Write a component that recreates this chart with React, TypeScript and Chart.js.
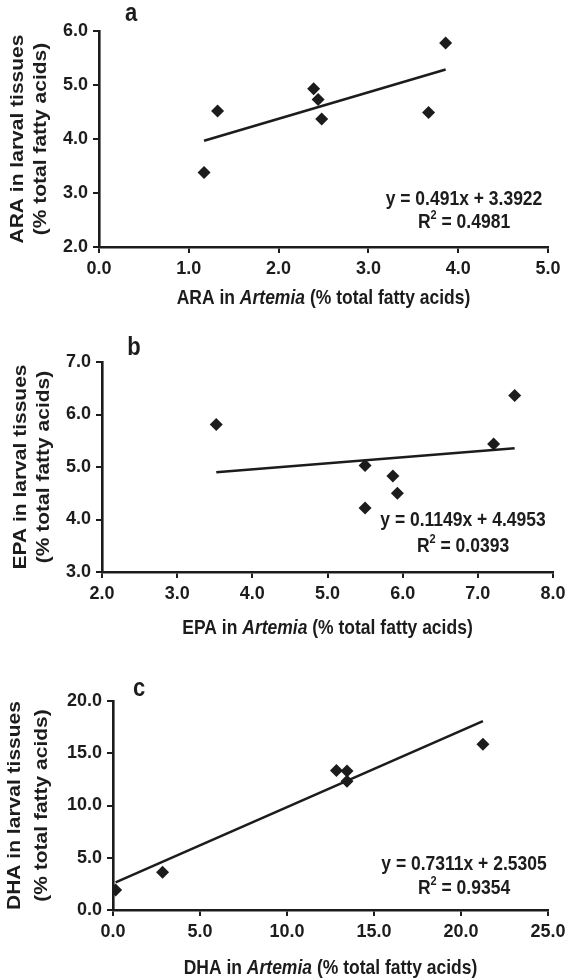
import React, { useEffect, useRef } from 'react';
import { Chart, registerables } from 'chart.js';

Chart.register(...registerables);

// ---- data ----
const panelLetters = ['a', 'b', 'c'];
const acidNames = ['ARA', 'EPA', 'DHA'];

const araArtemia = [1.17, 1.32, 2.39, 2.44, 2.48, 3.67, 3.86];
const araLarvae = [3.38, 4.52, 4.93, 4.73, 4.37, 4.49, 5.78];
const epaArtemia = [3.52, 5.5, 5.5, 5.87, 5.93, 7.21, 7.49];
const epaLarvae = [5.81, 5.03, 4.22, 4.83, 4.5, 5.44, 6.36];
const dhaArtemia = [0.15, 2.85, 12.84, 13.45, 13.45, 21.26];
const dhaLarvae = [1.92, 3.61, 13.35, 13.29, 12.33, 15.85];

const slopes = [0.491, 0.1149, 0.7311];
const intercepts = [3.3922, 4.4953, 2.5305];
const equationTexts = ['y = 0.491x + 3.3922', 'y = 0.1149x + 4.4953', 'y = 0.7311x + 2.5305'];
const r2Texts = ['0.4981', '0.0393', '0.9354'];

const xMins = [0, 2, 0];
const xMaxs = [5, 8, 25];
const xSteps = [1, 1, 5];
const yMins = [2, 3, 0];
const yMaxs = [6, 7, 20];
const ySteps = [1, 1, 5];

const xSeries = [araArtemia, epaArtemia, dhaArtemia];
const ySeries = [araLarvae, epaLarvae, dhaLarvae];

// ---- layout / style (not data) ----
const W = 565;
const INK = '#1c1c1c';
const FONT = '"Liberation Sans", Arial, Helvetica, sans-serif';
const layouts = [
  { top: 0, h: 325, left: 99, right: 548, cTop: 31, cBottom: 247, yt1: 18, yt2: 41, xtOff: 51, eqX: 464, eq1: 199, eq2: 222, letX: 131, letY: 14 },
  { top: 325, h: 325, left: 102, right: 553, cTop: 362, cBottom: 572, yt1: 21, yt2: 44, xtOff: 56, eqX: 463, eq1: 520, eq2: 546, letX: 134, letY: 348 },
  { top: 650, h: 330, left: 113, right: 548, cTop: 701, cBottom: 910, yt1: 15, yt2: 42, xtOff: 58, eqX: 464, eq1: 864, eq2: 888, letX: 139, letY: 689 },
];

const TICK_SIZE = 18;
const TITLE_SIZE = 17.5;
const STRETCH = 1.2;

function fillStretched(ctx: CanvasRenderingContext2D, text: string, x: number, y: number, sy: number) {
  ctx.save();
  ctx.translate(x, y);
  ctx.scale(1, sy);
  ctx.fillText(text, 0, 0);
  ctx.restore();
}

function Panel({ idx }: { idx: number }) {
  const ref = useRef<HTMLCanvasElement | null>(null);
  useEffect(() => {
    const L = layouts[idx];
    const xs = xSeries[idx];
    const ys = ySeries[idx];
    const pts = xs.map((x, i) => ({ x, y: ys[i] }));
    const lo = Math.min(...xs);
    const hi = Math.max(...xs);
    const trend = [
      { x: lo, y: slopes[idx] * lo + intercepts[idx] },
      { x: hi, y: slopes[idx] * hi + intercepts[idx] },
    ];
    const xAxisH = 60;
    const padTop = L.cTop - L.top;
    const padBottom = L.h - (L.cBottom - L.top) - xAxisH;

    const annot = {
      id: 'annot' + idx,
      afterDraw(chart: any) {
        const ctx = chart.ctx as CanvasRenderingContext2D;
        const ca = chart.chartArea;
        ctx.save();
        ctx.fillStyle = INK;
        // y title (two rotated lines)
        const cy = (ca.top + ca.bottom) / 2;
        ctx.font = `bold ${TITLE_SIZE}px ${FONT}`;
        ctx.textAlign = 'center';
        ctx.textBaseline = 'middle';
        const lines = [`${acidNames[idx]} in larval tissues`, '(% total fatty acids)'];
        [L.yt1, L.yt2].forEach((x, i) => {
          ctx.save();
          ctx.translate(x, cy);
          ctx.rotate(-Math.PI / 2);
          ctx.scale(STRETCH, 1);
          ctx.fillText(lines[i], 0, 0);
          ctx.restore();
        });
        // x title with italic species name
        const parts: [string, boolean][] = [
          [`${acidNames[idx]} in `, false],
          ['Artemia', true],
          [' (% total fatty acids)', false],
        ];
        const fontOf = (it: boolean) => `${it ? 'italic ' : ''}bold ${TITLE_SIZE}px ${FONT}`;
        let total = 0;
        parts.forEach(([t, it]) => { ctx.font = fontOf(it); total += ctx.measureText(t).width; });
        let x = (ca.left + ca.right) / 2 - total / 2;
        const ty = ca.bottom + L.xtOff;
        ctx.textAlign = 'left';
        parts.forEach(([t, it]) => {
          ctx.font = fontOf(it);
          fillStretched(ctx, t, x, ty, STRETCH);
          x += ctx.measureText(t).width;
        });
        // equation
        ctx.font = `bold ${TITLE_SIZE}px ${FONT}`;
        ctx.textAlign = 'center';
        fillStretched(ctx, equationTexts[idx], L.eqX, L.eq1 - L.top, STRETCH);
        const r = 'R';
        const rest = ' = ' + r2Texts[idx];
        const wR = ctx.measureText(r).width;
        const wRest = ctx.measureText(rest).width;
        ctx.font = `bold 11px ${FONT}`;
        const wSup = ctx.measureText('2').width;
        const tot2 = wR + wSup + wRest;
        let sx = L.eqX - tot2 / 2;
        const y2 = L.eq2 - L.top;
        ctx.textAlign = 'left';
        ctx.font = `bold ${TITLE_SIZE}px ${FONT}`;
        fillStretched(ctx, r, sx, y2, STRETCH);
        sx += wR;
        ctx.font = `bold 11px ${FONT}`;
        fillStretched(ctx, '2', sx, y2 - 7, STRETCH);
        sx += wSup;
        ctx.font = `bold ${TITLE_SIZE}px ${FONT}`;
        fillStretched(ctx, rest, sx, y2, STRETCH);
        // panel letter
        ctx.font = `bold 22px ${FONT}`;
        ctx.textAlign = 'center';
        fillStretched(ctx, panelLetters[idx], L.letX, L.letY - L.top, STRETCH);
        ctx.restore();
      },
    };

    const tickFont = { family: FONT, size: TICK_SIZE, weight: 'bold' as const };
    const chart = new Chart(ref.current as HTMLCanvasElement, {
      type: 'scatter',
      data: {
        datasets: [
          {
            type: 'scatter',
            data: pts,
            pointStyle: 'rectRot',
            pointRadius: 6.5,
            backgroundColor: INK,
            borderColor: INK,
            borderWidth: 0,
          } as any,
          {
            type: 'line',
            data: trend,
            borderColor: INK,
            borderWidth: 2.6,
            pointRadius: 0,
            fill: false,
            showLine: true,
          } as any,
        ],
      },
      options: {
        responsive: false,
        animation: false,
        devicePixelRatio: 1,
        layout: { padding: { left: 0, right: W - L.right, top: padTop, bottom: padBottom } },
        plugins: { legend: { display: false }, tooltip: { enabled: false } },
        scales: {
          x: {
            type: 'linear',
            min: xMins[idx],
            max: xMaxs[idx],
            ticks: {
              stepSize: xSteps[idx],
              autoSkip: false,
              maxRotation: 0,
              padding: 5,
              color: INK,
              font: tickFont,
              callback: (v: any) => Number(v).toFixed(1),
            },
            grid: { display: true, drawOnChartArea: false, drawTicks: true, tickLength: 6, color: INK, lineWidth: 2 },
            border: { display: true, color: INK, width: 2.6 },
            afterFit: (s: any) => { s.height = xAxisH; s.paddingLeft = 0; s.paddingRight = 0; },
          },
          y: {
            type: 'linear',
            min: yMins[idx],
            max: yMaxs[idx],
            ticks: {
              stepSize: ySteps[idx],
              autoSkip: false,
              padding: 5,
              color: INK,
              font: tickFont,
              callback: (v: any) => Number(v).toFixed(1),
            },
            grid: { display: true, drawOnChartArea: false, drawTicks: true, tickLength: 6, color: INK, lineWidth: 2 },
            border: { display: true, color: INK, width: 2.6 },
            afterFit: (s: any) => { s.width = L.left; s.paddingTop = 0; s.paddingBottom = 0; },
          },
        },
      } as any,
      plugins: [annot],
    });
    return () => chart.destroy();
  }, [idx]);
  const L = layouts[idx];
  return (
    <canvas
      ref={ref}
      width={W}
      height={L.h}
      style={{ position: 'absolute', left: 0, top: L.top, width: W, height: L.h, display: 'block' }}
    />
  );
}

export default function App() {
  return (
    <div style={{ position: 'absolute', left: 0, top: 0, width: W, height: 980, background: '#fff' }}>
      <Panel idx={0} />
      <Panel idx={1} />
      <Panel idx={2} />
    </div>
  );
}
